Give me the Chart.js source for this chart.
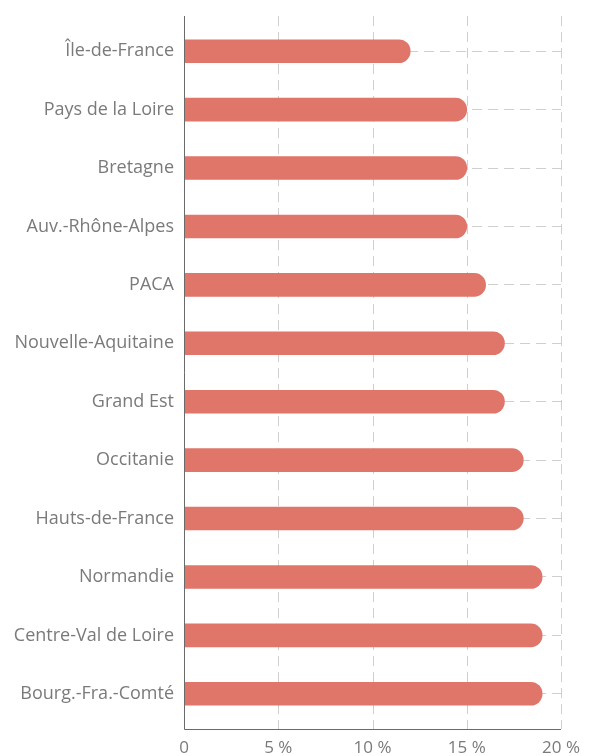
<!DOCTYPE html>
<html>
<head>
<meta charset="utf-8">
<script src="https://cdn.jsdelivr.net/npm/chart.js@4"></script>
<style>
  html, body { margin: 0; padding: 0; background: #fff; }
  #wrap { width: 590px; height: 756px; position: relative; }
</style>
</head>
<body>
<div id="wrap"><canvas id="chart"></canvas></div>
<script>
const regions = [
  "Île-de-France", "Pays de la Loire", "Bretagne", "Auv.-Rhône-Alpes", "PACA",
  "Nouvelle-Aquitaine", "Grand Est", "Occitanie", "Hauts-de-France",
  "Normandie", "Centre-Val de Loire", "Bourg.-Fra.-Comté"
];
const shares = [12, 15, 15, 15, 16, 17, 17, 18, 18, 19, 19, 19];
const xTicks = [0, 5, 10, 15, 20];

const FONT = "'Open Sans', sans-serif";
const EXT = 6; // axis lines run a bit past the plot area

// axis lines + dashed vertical grid, drawn a little longer than the chart area
const axisLines = {
  id: "axisLines",
  beforeDatasetsDraw(chart) {
    const { ctx, chartArea: a, scales } = chart;
    ctx.save();
    ctx.strokeStyle = "#cfcfcf";
    ctx.lineWidth = 1;
    ctx.setLineDash([10, 6]);
    xTicks.slice(1).forEach((v) => {
      const x = Math.round(scales.x.getPixelForValue(v)) + 0.5;
      ctx.beginPath();
      ctx.moveTo(x, a.top - EXT);
      ctx.lineTo(x, a.bottom + EXT);
      ctx.stroke();
    });
    ctx.restore();
  },
  afterDatasetsDraw(chart) {
    const { ctx, chartArea: a } = chart;
    ctx.save();
    ctx.strokeStyle = "#6a6a6a";
    ctx.lineWidth = 1;
    const x = Math.round(a.left) + 0.5;
    const y = Math.round(a.bottom + EXT) + 0.5;
    ctx.beginPath();
    ctx.moveTo(x, a.top - EXT);
    ctx.lineTo(x, y);
    ctx.lineTo(a.right, y);
    ctx.stroke();
    ctx.restore();
  },
};

new Chart(document.getElementById("chart"), {
  type: "bar",
  data: {
    labels: regions,
    datasets: [
      {
        data: shares,
        backgroundColor: "#e0756a",
        barThickness: 23,
        borderRadius: 12,
        borderSkipped: "start",
      },
    ],
  },
  options: {
    indexAxis: "y",
    responsive: true,
    maintainAspectRatio: false,
    animation: false,
    layout: { padding: { top: 22, right: 29, left: 0, bottom: 0 } },
    plugins: { legend: { display: false }, tooltip: { enabled: false } },
    scales: {
      x: {
        min: 0,
        max: 20,
        afterBuildTicks: (scale) => {
          scale.ticks = xTicks.map((v) => ({ value: v }));
        },
        afterFit: (scale) => {
          scale.height = 33;
        },
        grid: { display: false },
        border: { display: false },
        ticks: {
          padding: 7,
          color: "#7a7a7a",
          font: { family: FONT, size: 17 },
          maxRotation: 0,
          callback: (v) => (v === 0 ? "0" : v + " %"),
        },
      },
      y: {
        afterFit: (scale) => {
          scale.width = 184;
        },
        grid: {
          offset: false,
          color: "#cfcfcf",
          drawTicks: false,
        },
        border: { display: false, dash: [10, 6] },
        ticks: {
          padding: 10,
          color: "#7a7a7a",
          font: { family: FONT, size: 18 },
        },
      },
    },
  },
  plugins: [axisLines],
});
</script>
</body>
</html>
